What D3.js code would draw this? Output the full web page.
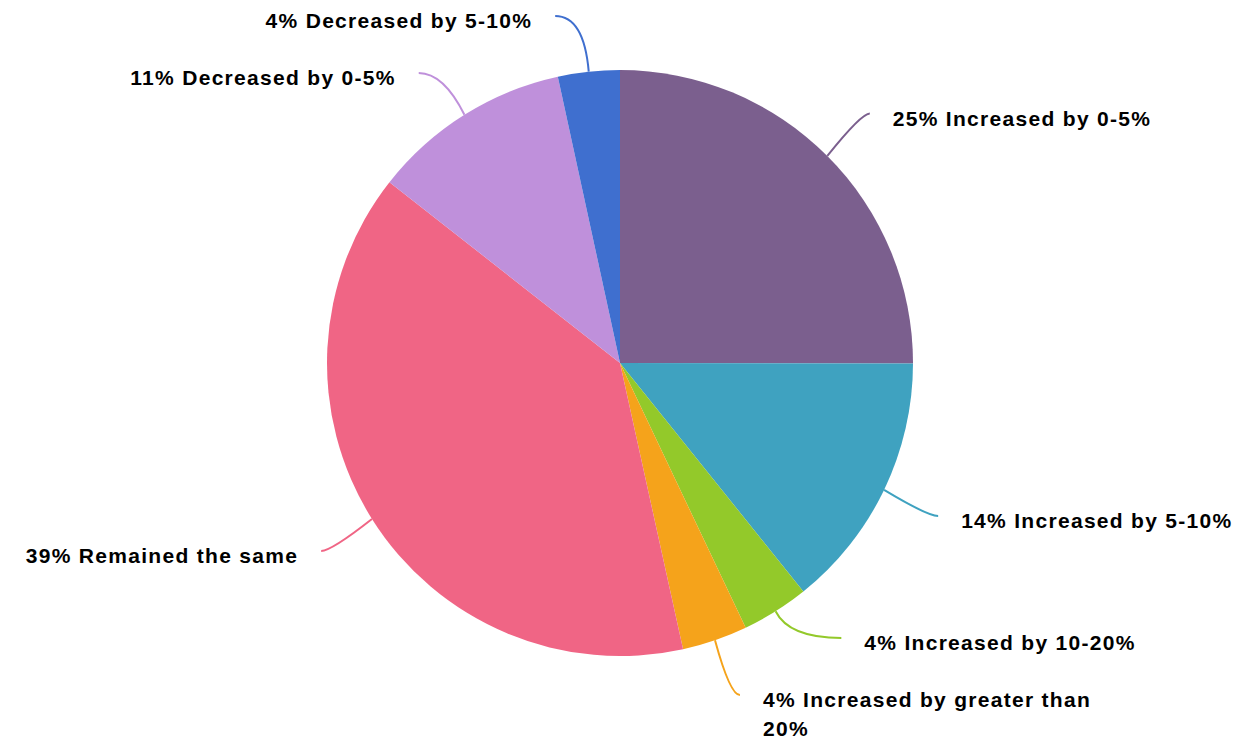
<!DOCTYPE html>
<html>
<head>
<meta charset="utf-8">
<script src="https://cdn.jsdelivr.net/npm/d3@7"></script>
<style>
  body { margin: 0; background: #fff; }
  text { font-family: "Liberation Sans", Arial, sans-serif; font-weight: bold; font-size: 21px; letter-spacing: 1.3px; fill: #000; }
</style>
</head>
<body>
<svg id="chart" width="1242" height="741"></svg>
<script>
// slices, clockwise from 12 o'clock
const categories = ['Increased by 0-5%', 'Increased by 5-10%', 'Increased by 10-20%',
    'Increased by greater than 20%', 'Remained the same', 'Decreased by 0-5%', 'Decreased by 5-10%'];
const values = [25, 14.2, 3.7, 3.6, 39, 11, 3.4];
const percentLabels = ['25%', '14%', '4%', '4%', '39%', '11%', '4%'];
const colors = ['#7b5f8e', '#3fa2c0', '#93c92a', '#f5a31b', '#f06585', '#bf90db', '#3f6fcf'];

const width = 1242, height = 741;
const cx = 620, cy = 363, radius = 293;
const labelRadius = 353;
const lineHeight = 29;
const maxLabelWidth = 340;

let svg = d3.select('#chart');
let g = svg.append('g').attr('transform', 'translate(' + cx + ',' + cy + ')');

let pie = d3.pie().sort(null).value(d => d);
let arc = d3.arc().innerRadius(0).outerRadius(radius);
let pieData = pie(values);

g.selectAll('path.slice')
    .data(pieData)
    .enter()
    .append('path')
    .attr('class', 'slice')
    .attr('d', arc)
    .style('fill', (d, i) => colors[i]);

// measure text for wrapping
let measure = svg.append('text').attr('x', -1000).attr('y', -1000);
function textWidth(s) {
    measure.text(s);
    return measure.node().getComputedTextLength();
}
function wrap(s) {
    let words = s.split(' ');
    let lines = [], cur = '';
    words.forEach(w => {
        let test = cur ? cur + ' ' + w : w;
        if (cur && textWidth(test) > maxLabelWidth) {
            lines.push(cur);
            cur = w;
        } else {
            cur = test;
        }
    });
    lines.push(cur);
    return lines;
}

// label anchors, natural position on the outer circle
let labels = pieData.map((d, i) => {
    let mid = (d.startAngle + d.endAngle) / 2;
    return {
        i: i,
        mid: mid,
        side: Math.sin(mid) >= 0 ? 1 : -1,
        y: -Math.cos(mid) * labelRadius,
        lines: wrap(percentLabels[i] + ' ' + categories[i])
    };
});
measure.remove();

// push labels apart on each side, keep them in the window
const topY = 16 - cy;
[1, -1].forEach(side => {
    let list = labels.filter(l => l.side === side).sort((a, b) => a.y - b.y);
    for (let k = 0; k < list.length; k++) {
        if (k === 0) list[k].y = Math.max(list[k].y, topY);
        else list[k].y = Math.max(list[k].y, list[k - 1].y + list[k - 1].lines.length * lineHeight + 28);
    }
    for (let k = list.length - 1; k >= 0; k--) {
        let bottom = height - cy - 17 - (list[k].lines.length - 1) * lineHeight;
        if (k === list.length - 1) list[k].y = Math.min(list[k].y, bottom);
        else list[k].y = Math.min(list[k].y, list[k + 1].y - list[k].lines.length * lineHeight - 28);
    }
});
labels.forEach(l => {
    let dy = Math.min(Math.abs(l.y), labelRadius);
    l.x = l.side * Math.sqrt(labelRadius * labelRadius - dy * dy);
});

// leader lines: leave the slice radially, end flat at the label
labels.forEach(l => {
    let sx = Math.sin(l.mid), sy = -Math.cos(l.mid);
    let p0 = [sx * radius, sy * radius];
    let t = Math.abs(sy) > 0.05 ? (l.y - p0[1]) / sy : 40;
    if (t < 0) t = 0;
    let p1 = [p0[0] + sx * t * 0.8, p0[1] + sy * t];
    let path = d3.path();
    path.moveTo(p0[0], p0[1]);
    path.quadraticCurveTo(p1[0], p1[1], l.x, l.y);
    g.append('path')
        .attr('d', path.toString())
        .style('fill', 'none')
        .style('stroke', colors[l.i])
        .style('stroke-width', 2);

    let txt = g.append('text')
        .attr('text-anchor', l.side > 0 ? 'start' : 'end')
        .attr('x', l.x + l.side * 23)
        .attr('y', l.y + 12);
    l.lines.forEach((line, k) => {
        txt.append('tspan')
            .attr('x', l.x + l.side * 23)
            .attr('dy', k === 0 ? 0 : lineHeight)
            .text(line);
    });
});
</script>
</body>
</html>
